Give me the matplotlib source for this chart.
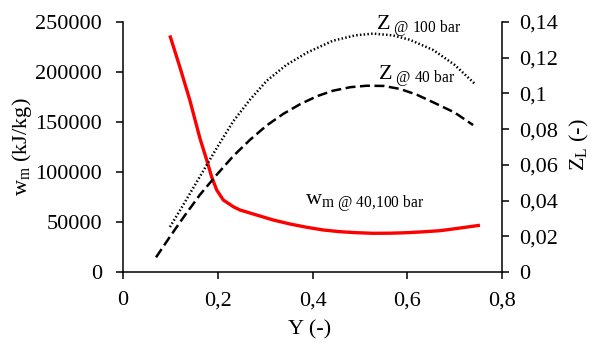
import matplotlib
matplotlib.use("Agg")
import matplotlib.pyplot as plt
from matplotlib.ticker import FuncFormatter

plt.rcParams['font.family'] = ['Liberation Serif', 'DejaVu Serif']
plt.rcParams['mathtext.fontset'] = 'custom'
plt.rcParams['mathtext.rm'] = 'Liberation Serif'
plt.rcParams['mathtext.it'] = 'Liberation Serif'

# w_m (left axis), red
Y_w = [0.100, 0.120, 0.141, 0.1625, 0.1767, 0.187, 0.1978, 0.2117, 0.2328, 0.247,
       0.268, 0.282, 0.317, 0.3525, 0.388, 0.423, 0.458, 0.493, 0.528, 0.564,
       0.599, 0.634, 0.669, 0.704, 0.750]
w_m = [235000, 205000, 172000, 133500, 112000, 95300, 82000, 72000, 65300, 62000,
       59000, 57000, 52000, 48000, 44700, 42000, 40300, 39300, 38700, 38800,
       39300, 40200, 41300, 43500, 46500]

# Z_L @ 40 bar (right axis), dashed
Y_z40 = [0.0697, 0.0992, 0.1273, 0.1625, 0.198, 0.233, 0.268, 0.303, 0.338, 0.374,
         0.410, 0.443, 0.480, 0.514, 0.550, 0.585, 0.620, 0.655, 0.700, 0.739]
Z_40 = [0.0082, 0.0198, 0.0305, 0.0433, 0.0545, 0.0650, 0.0740, 0.0820, 0.0885,
        0.0940, 0.0985, 0.1015, 0.1035, 0.1043, 0.1042, 0.1025, 0.0993, 0.0950,
        0.0893, 0.0823]

# Z_L @ 100 bar (right axis), dotted
Y_z100 = [0.099, 0.127, 0.1625, 0.198, 0.233, 0.268, 0.303, 0.345, 0.388, 0.443,
          0.490, 0.528, 0.570, 0.606, 0.655, 0.700, 0.743]
Z_100 = [0.0252, 0.0375, 0.0535, 0.0695, 0.0845, 0.0965, 0.1070, 0.1160, 0.1228,
         0.1295, 0.1325, 0.1335, 0.1325, 0.1300, 0.1243, 0.1160, 0.1053]

x_ticks = [0, 0.2, 0.4, 0.6, 0.8]
left_ticks = [0, 50000, 100000, 150000, 200000, 250000]
right_ticks = [0, 0.02, 0.04, 0.06, 0.08, 0.1, 0.12, 0.14]

W, H = 593, 345
fig = plt.figure(figsize=(W / 100, H / 100), dpi=100)
ax = fig.add_axes([123 / W, 1 - 272 / H, (502 - 123) / W, (272 - 22) / H])
ax2 = ax.twinx()

ax.plot(Y_w, w_m, color='#ff0000', lw=2.4, zorder=3, solid_joinstyle='round')
ax2.plot(Y_z40, Z_40, color='black', lw=1.8, linestyle=(0, (4.0, 1.8)))
ax2.plot(Y_z100, Z_100, color='black', lw=1.8, linestyle=(0, (0.6, 0.9)))

ax.set_xlim(0, 0.8)
ax.set_ylim(0, 250000)
ax2.set_ylim(0, 0.14)
ax.set_xticks(x_ticks)
ax.set_yticks(left_ticks)
ax2.set_yticks(right_ticks)

comma = FuncFormatter(lambda v, p: ('%g' % round(v, 4)).replace('.', ','))
ax.xaxis.set_major_formatter(comma)
ax2.yaxis.set_major_formatter(comma)
ax.yaxis.set_major_formatter(FuncFormatter(lambda v, p: '%d' % v))

for a in (ax, ax2):
    a.spines['top'].set_visible(False)
    for s in a.spines.values():
        s.set_linewidth(1.1)
    a.tick_params(direction='out', length=5, width=1.1, labelsize=16)
ax.spines['right'].set_visible(False)
ax2.spines['left'].set_visible(False)
ax2.spines['bottom'].set_visible(False)
ax.tick_params(axis='y', pad=10)
ax.tick_params(axis='x', pad=9)
ax2.tick_params(axis='y', pad=7)

fig.text(22 / W, 1 - 147 / H, r'$\mathregular{w_m}$ (kJ/kg)', rotation=90,
         ha='center', va='center', fontsize=16)
fig.text(579 / W, 1 - 145 / H, r'$\mathregular{Z_L}$ (-)', rotation=90,
         ha='center', va='center', fontsize=16)
fig.text(310 / W, 1 - 330 / H, 'Y (-)', ha='center', va='center', fontsize=16)

fig.text(376 / W, 1 - 30 / H, r'$\mathregular{Z_{\ @\ 100\ bar}}$',
         ha='left', va='baseline', fontsize=16)
fig.text(378 / W, 1 - 80 / H, r'$\mathregular{Z_{\ @\ 40\ bar}}$',
         ha='left', va='baseline', fontsize=16)
fig.text(305 / W, 1 - 205 / H, r'$\mathregular{w_{m\ @\ 40{,}100\ bar}}$',
         ha='left', va='baseline', fontsize=16)

fig.savefig('out.png', dpi=100)
